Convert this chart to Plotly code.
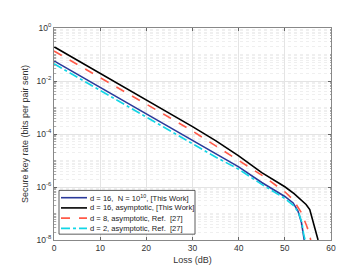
import plotly.graph_objects as go

# Loss (dB) and secure key rate (bits per pair sent)
loss_blue = [0, 5, 10, 15, 20, 25, 30, 35, 40, 45, 50, 51.8, 52.85, 53.6, 54.2]
rate_blue = [0.0575, 0.0182, 5.75e-3, 1.82e-3, 5.75e-4, 1.8e-4, 5.6e-5, 1.7e-5,
             5.75e-6, 1.48e-6, 4.4e-7, 2.5e-7, 1.23e-7, 4.6e-8, 1e-8]

loss_black = [0, 5, 10, 15, 20, 25, 30, 35, 40, 45, 50, 52, 54.6, 55.4, 56.1, 56.6, 57.2]
rate_black = [0.195, 0.062, 0.0195, 6.2e-3, 1.95e-3, 6.1e-4, 1.9e-4, 5.6e-5, 1.5e-5,
              3.5e-6, 1.02e-6, 5.6e-7, 2.2e-7, 1.4e-7, 5.2e-8, 2.2e-8, 1e-8]

loss_red = [0, 5, 10, 15, 20, 25, 30, 35, 40, 45, 50, 51.8, 53.6, 54.7, 55.2, 55.6]
rate_red = [0.135, 0.043, 0.0135, 4.3e-3, 1.35e-3, 4.2e-4, 1.29e-4, 3.7e-5, 1.0e-5,
            2.8e-6, 6.6e-7, 3.3e-7, 1.07e-7, 3.5e-8, 2.0e-8, 1e-8]

loss_cyan = [0, 5, 10, 15, 20, 25, 30, 35, 40, 45, 50, 52, 53, 53.7, 54.1, 54.4]
rate_cyan = [0.0447, 0.0141, 4.47e-3, 1.41e-3, 4.47e-4, 1.4e-4, 4.4e-5, 1.35e-5,
             4.7e-6, 1.25e-6, 3.7e-7, 1.9e-7, 1.05e-7, 4.5e-8, 1.6e-8, 1e-8]

legend_labels = [
    "d = 16,  N = 10<sup>10</sup>, [This Work]",
    "d = 16, asymptotic, [This Work]",
    "d = 8, asymptotic, Ref.  [27]",
    "d = 2, asymptotic, Ref.  [27]",
]

x_ticks = [0, 10, 20, 30, 40, 50, 60]
y_tickvals = [1e-8, 1e-6, 1e-4, 1e-2, 1]
y_ticktext = ["10<sup>-8</sup>", "10<sup>-6</sup>", "10<sup>-4</sup>",
              "10<sup>-2</sup>", "10<sup>0</sup>"]

colors = ["#2b3a9a", "#000000", "#ff5a48", "#12d6e6"]
dashes = ["solid", "solid", "dash", "dashdot"]

W, H = 357, 268
ml, mr, mt, mb = 46, 34, 20, 30
pw, ph = W - ml - mr, H - mt - mb

fig = go.Figure()
series = [(loss_blue, rate_blue), (loss_black, rate_black),
          (loss_red, rate_red), (loss_cyan, rate_cyan)]
for (xs, ys), c, d, name in zip(series, colors, dashes, legend_labels):
    fig.add_trace(go.Scatter(x=xs, y=ys, mode="lines", name=name,
                             line=dict(color=c, width=1.6, dash=d),
                             showlegend=False))

font = "Liberation Sans, Arial, sans-serif"

def px2x(px):
    return (px - ml) / pw

def py2y(py):
    return (H - mb - py) / ph

# Compact MATLAB-style legend
shapes = [dict(type="rect", xref="paper", yref="paper",
               x0=px2x(51), x1=px2x(187), y0=py2y(232), y1=py2y(187),
               line=dict(color="#333333", width=0.8), fillcolor="white", layer="above")]
annotations = []
row_y = [194.5, 205, 215.5, 226]
for yy, c, d, name in zip(row_y, colors, dashes, legend_labels):
    shapes.append(dict(type="line", xref="paper", yref="paper",
                       x0=px2x(53), x1=px2x(79), y0=py2y(yy), y1=py2y(yy),
                       line=dict(color=c, width=1.6, dash=d), layer="above"))
    annotations.append(dict(xref="paper", yref="paper", x=px2x(80), y=py2y(yy),
                            xanchor="left", yanchor="middle", text=name, showarrow=False,
                            font=dict(family=font, size=7.6, color="#222222")))

fig.update_layout(
    width=W, height=H,
    margin=dict(l=ml, r=mr, t=mt, b=mb, pad=0),
    paper_bgcolor="white", plot_bgcolor="white",
    font=dict(family=font, size=8.5, color="#333333"),
    shapes=shapes, annotations=annotations,
    showlegend=False,
)
fig.update_xaxes(
    range=[0, 60], tickvals=x_ticks, ticks="inside", ticklen=3, tickcolor="#666666",
    showline=True, linecolor="#888888", linewidth=1, mirror="ticks",
    showgrid=True, gridcolor="#e4e4e4", gridwidth=1, zeroline=False,
    title=dict(text="Loss (dB)", font=dict(size=9, family=font, color="#333333"), standoff=4),
    tickfont=dict(size=8.5, family=font, color="#333333"),
)
fig.update_yaxes(
    type="log", range=[-8, 0], tickmode="array", tickvals=y_tickvals, ticktext=y_ticktext,
    ticks="inside", ticklen=3, tickcolor="#666666",
    showline=True, linecolor="#888888", linewidth=1, mirror="ticks",
    showgrid=True, gridcolor="#e4e4e4", gridwidth=1, zeroline=False,
    minor=dict(dtick="D1", showgrid=True, gridcolor="#efefef", griddash="dot",
               ticks="inside", ticklen=1.5, tickcolor="#aaaaaa"),
    title=dict(text="Secure key rate (bits per pair sent)",
               font=dict(size=9, family=font, color="#333333"), standoff=6),
    tickfont=dict(size=8.5, family=font, color="#333333"),
)

fig.write_html("out.html")
